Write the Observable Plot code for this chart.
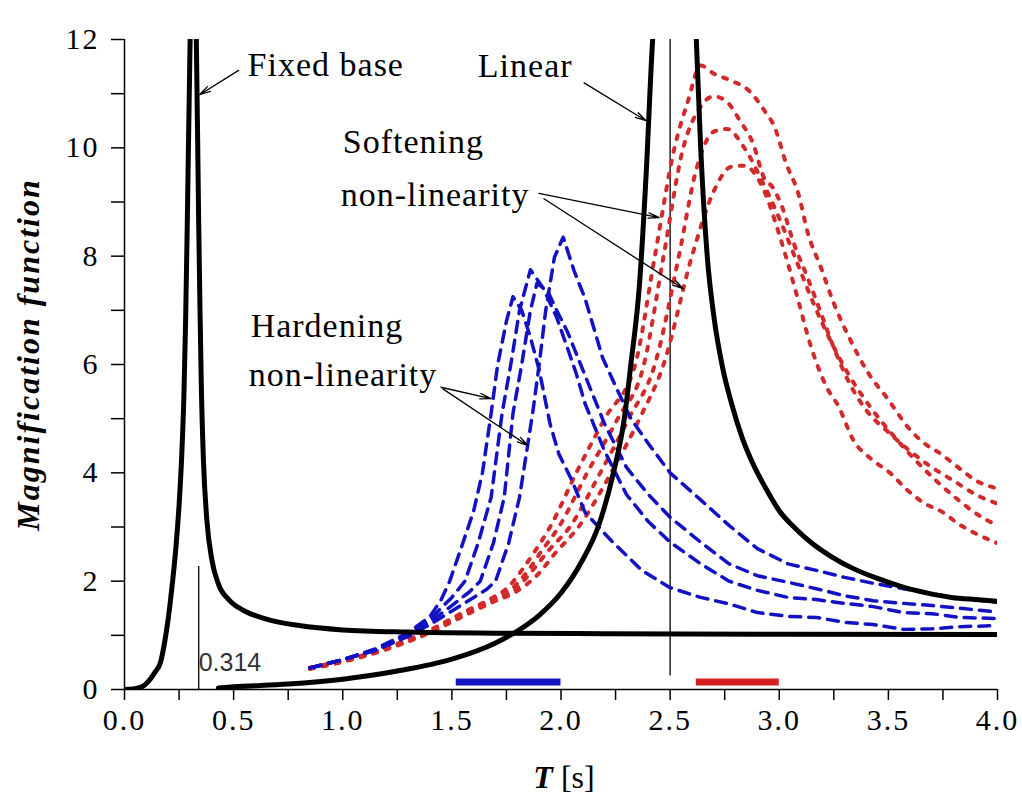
<!DOCTYPE html>
<html>
<head>
<meta charset="utf-8">
<script src="https://cdn.jsdelivr.net/npm/d3@7"></script>
<script src="https://cdn.jsdelivr.net/npm/@observablehq/plot@0.6"></script>
<style>
  html, body { margin: 0; padding: 0; background: white; }
  svg text { font-family: "Liberation Serif", "Times New Roman", serif; }
  svg text.sans { font-family: "Liberation Sans", Arial, sans-serif; }
</style>
</head>
<body>
<div id="chart"></div>
<script>
// ---- Axis ticks ----
const xTicks = [0, 0.25, 0.5, 0.75, 1, 1.25, 1.5, 1.75, 2, 2.25, 2.5, 2.75, 3, 3.25, 3.5, 3.75, 4];
const xTickLabels = ["0.0", "", "0.5", "", "1.0", "", "1.5", "", "2.0", "", "2.5", "", "3.0", "", "3.5", "", "4.0"];
const yTicks = [0, 1, 2, 3, 4, 5, 6, 7, 8, 9, 10, 11, 12];
const yTickLabels = ["0", "", "2", "", "4", "", "6", "", "8", "", "10", "", "12"];

// ---- Fixed base (black) ----
const fixedT = [0, 0.04, 0.08, 0.11, 0.14, 0.165, 0.185, 0.2, 0.215, 0.235, 0.25, 0.262, 0.272, 0.28, 0.288, 0.296, 0.304, 0.326, 0.334, 0.34, 0.346, 0.352, 0.362, 0.378, 0.4, 0.43, 0.48, 0.55, 0.65, 0.8, 1.0, 1.3, 1.7, 2.2, 3.0, 4.0];
const fixedM = [0, 0.01, 0.05, 0.15, 0.32, 0.5, 0.9, 1.3, 1.8, 2.6, 3.4, 4.3, 5.4, 6.8, 8.7, 10.8, 12.4, 12.4, 10.5, 8.6, 7.0, 5.6, 4.2, 3.1, 2.4, 1.95, 1.65, 1.45, 1.3, 1.18, 1.1, 1.06, 1.04, 1.03, 1.02, 1.015];

// ---- Linear (black), two branches around T = 2.5 ----
const linearLeftT = [0.43, 0.5, 0.75, 1.0, 1.25, 1.5, 1.7, 1.8, 1.9, 2.0, 2.1, 2.17, 2.24, 2.29, 2.32, 2.36, 2.39, 2.42, 2.44];
const linearLeftM = [0.03, 0.05, 0.1, 0.19, 0.34, 0.56, 0.86, 1.08, 1.37, 1.78, 2.4, 3.0, 4.0, 5.0, 6.0, 7.5, 9.5, 12.0, 13.0];
const linearRightT = [2.61, 2.62, 2.64, 2.67, 2.7, 2.74, 2.78, 2.83, 2.87, 2.94, 3.0, 3.08, 3.15, 3.24, 3.33, 3.45, 3.56, 3.68, 3.79, 3.9, 4.0];
const linearRightM = [13.0, 12.0, 10.0, 8.0, 6.9, 5.95, 5.3, 4.65, 4.25, 3.7, 3.3, 2.95, 2.7, 2.45, 2.25, 2.05, 1.9, 1.78, 1.7, 1.66, 1.63];

// ---- Hardening non-linearity (blue dashed) ----
const hard1T = [0.85, 1.0, 1.15, 1.3, 1.4, 1.45, 1.49, 1.55, 1.6, 1.64, 1.68, 1.71, 1.75, 1.78, 1.82, 1.86, 1.9, 1.95, 1.99, 2.05, 2.11, 2.23, 2.37, 2.5, 2.64, 2.77, 2.9, 3.04, 3.17, 3.3, 3.43, 3.57, 3.7, 3.83, 4.0];
const hard1M = [0.4, 0.55, 0.75, 1.05, 1.35, 1.65, 2.0, 2.7, 3.3, 4.0, 5.1, 6.0, 6.8, 7.25, 7.0, 6.5, 5.9, 4.9, 4.35, 3.86, 3.27, 2.75, 2.2, 1.88, 1.7, 1.58, 1.42, 1.35, 1.33, 1.24, 1.2, 1.11, 1.12, 1.16, 1.18];
const hard2T = [0.85, 1.0, 1.15, 1.3, 1.4, 1.5, 1.56, 1.62, 1.68, 1.73, 1.77, 1.81, 1.86, 1.92, 1.98, 2.03, 2.07, 2.11, 2.2, 2.3, 2.4, 2.5, 2.64, 2.77, 2.9, 3.04, 3.17, 3.3, 3.43, 3.57, 3.7, 3.83, 4.0];
const hard2M = [0.4, 0.55, 0.74, 1.02, 1.3, 1.7, 2.0, 2.7, 3.55, 5.1, 6.0, 7.0, 7.75, 7.4, 6.87, 6.3, 5.83, 5.28, 4.4, 3.6, 3.1, 2.72, 2.32, 2.0, 1.83, 1.7, 1.66, 1.59, 1.53, 1.42, 1.4, 1.33, 1.31];
const hard3T = [0.85, 1.0, 1.15, 1.3, 1.4, 1.5, 1.58, 1.63, 1.69, 1.74, 1.78, 1.82, 1.86, 1.89, 1.94, 1.98, 2.03, 2.08, 2.14, 2.2, 2.3, 2.4, 2.5, 2.64, 2.77, 2.9, 3.04, 3.17, 3.3, 3.43, 3.57, 3.7, 3.83, 4.0];
const hard3M = [0.4, 0.55, 0.73, 1.0, 1.25, 1.55, 1.8, 2.0, 2.7, 3.55, 5.1, 6.0, 7.0, 7.5, 7.35, 7.0, 6.6, 6.1, 5.5, 4.9, 4.1, 3.6, 3.18, 2.72, 2.32, 2.1, 1.98, 1.86, 1.73, 1.64, 1.59, 1.55, 1.5, 1.43];
const hard4T = [0.85, 1.0, 1.15, 1.3, 1.4, 1.5, 1.6, 1.66, 1.7, 1.76, 1.81, 1.87, 1.9, 1.93, 1.97, 2.01, 2.06, 2.11, 2.15, 2.19, 2.25, 2.32, 2.4, 2.5, 2.64, 2.77, 2.9, 3.04, 3.17, 3.3, 3.43, 3.57, 3.7, 3.83, 4.0];
const hard4M = [0.4, 0.55, 0.72, 0.98, 1.2, 1.45, 1.7, 1.85, 2.0, 2.7, 3.55, 5.1, 6.0, 7.0, 7.98, 8.35, 7.73, 7.22, 6.68, 6.13, 5.6, 5.0, 4.54, 4.0, 3.5, 3.03, 2.6, 2.32, 2.2, 2.07, 1.96, 1.86, 1.77, 1.68, 1.61];

// ---- Softening non-linearity (red dotted) ----
const soft1T = [0.85, 1.0, 1.2, 1.4, 1.55, 1.68, 1.8, 1.9, 1.97, 2.08, 2.23, 2.36, 2.47, 2.6, 2.7, 2.78, 2.84, 2.92, 3.0, 3.04, 3.09, 3.14, 3.22, 3.27, 3.34, 3.42, 3.51, 3.59, 3.66, 3.75, 3.82, 3.9, 4.0];
const soft1M = [0.38, 0.51, 0.74, 1.05, 1.35, 1.6, 1.82, 2.15, 2.5, 3.0, 4.0, 5.0, 6.0, 8.0, 9.2, 9.65, 9.67, 9.3, 8.4, 7.86, 7.14, 6.4, 5.56, 5.24, 4.6, 4.26, 3.99, 3.67, 3.45, 3.27, 3.06, 2.88, 2.7];
const soft2T = [0.85, 1.0, 1.2, 1.4, 1.55, 1.68, 1.79, 1.87, 1.94, 2.04, 2.18, 2.31, 2.43, 2.54, 2.62, 2.7, 2.76, 2.84, 2.92, 3.0, 3.08, 3.16, 3.24, 3.32, 3.42, 3.52, 3.62, 3.72, 3.82, 3.92, 4.0];
const soft2M = [0.39, 0.52, 0.75, 1.07, 1.38, 1.63, 1.85, 2.2, 2.55, 3.0, 4.0, 5.0, 6.0, 8.0, 9.6, 10.3, 10.35, 10.0, 9.4, 8.7, 7.9, 7.1, 6.4, 5.8, 5.2, 4.7, 4.25, 3.85, 3.5, 3.2, 3.03];
const soft3T = [0.85, 1.0, 1.2, 1.4, 1.55, 1.68, 1.78, 1.85, 1.91, 1.99, 2.12, 2.26, 2.38, 2.47, 2.56, 2.63, 2.7, 2.76, 2.82, 2.88, 2.93, 2.97, 3.01, 3.07, 3.13, 3.19, 3.25, 3.32, 3.4, 3.5, 3.6, 3.7, 3.8, 3.9, 4.0];
const soft3M = [0.4, 0.53, 0.76, 1.09, 1.4, 1.66, 1.88, 2.2, 2.55, 3.0, 4.0, 5.0, 6.0, 8.0, 10.0, 10.7, 10.95, 10.85, 10.5, 10.08, 9.45, 9.27, 8.94, 8.2, 7.6, 6.96, 6.31, 5.67, 5.15, 4.75, 4.4, 4.1, 3.85, 3.6, 3.43];
const soft4T = [0.85, 1.0, 1.2, 1.4, 1.55, 1.68, 1.76, 1.82, 1.88, 1.95, 2.07, 2.2, 2.34, 2.43, 2.52, 2.58, 2.64, 2.7, 2.78, 2.86, 2.93, 2.98, 3.03, 3.09, 3.13, 3.19, 3.25, 3.32, 3.41, 3.5, 3.59, 3.66, 3.74, 3.82, 3.9, 4.0];
const soft4M = [0.4, 0.53, 0.77, 1.1, 1.42, 1.68, 1.9, 2.2, 2.55, 3.0, 4.0, 5.0, 6.0, 8.0, 10.0, 10.84, 11.52, 11.37, 11.24, 11.06, 10.7, 10.37, 9.73, 9.12, 8.44, 7.8, 7.13, 6.5, 5.83, 5.35, 4.84, 4.56, 4.35, 4.1, 3.86, 3.71];

// ---- Period ranges (bars near the axis) ----
const hardRange = [1.52, 2.0];
const softRange = [2.62, 3.0];
const barLevel = 0.14;

// ---- Reference lines ----
const fixedPeriodLine = {T: 0.34, from: 0, to: 2.27, label: "0.314"};
const linearPeriodLine = {T: 2.5, from: 0.25, to: 12};

// ---- Annotations ----
const noteTexts = ["Fixed base", "Linear", "Softening", "non-linearity", "Hardening", "non-linearity"];
const noteT = [0.564, 1.619, 1.0, 0.991, 0.578, 0.569];
const noteM = [11.33, 11.30, 9.91, 8.93, 6.5, 5.61];
const arrowFromT = [0.523, 2.106, 1.899, 1.922, 1.45, 1.459];
const arrowFromM = [11.43, 11.2, 9.16, 9.06, 5.58, 5.55];
const arrowToT = [0.344, 2.39, 2.45, 2.56, 1.679, 1.849];
const arrowToM = [10.98, 10.5, 8.71, 7.40, 5.37, 4.5];

// ---- Build tables ----
const toRows = (T, M, series) => T.map((t, i) => ({T: t, M: M[i], series}));
const blackRows = [
  ...toRows(fixedT, fixedM, "fixed"),
  ...toRows(linearLeftT, linearLeftM, "linL"),
  ...toRows(linearRightT, linearRightM, "linR")
];
const hardRows = [
  ...toRows(hard1T, hard1M, "h1"), ...toRows(hard2T, hard2M, "h2"),
  ...toRows(hard3T, hard3M, "h3"), ...toRows(hard4T, hard4M, "h4")
];
const softRows = [
  ...toRows(soft1T, soft1M, "s1"), ...toRows(soft2T, soft2M, "s2"),
  ...toRows(soft3T, soft3M, "s3"), ...toRows(soft4T, soft4M, "s4")
];
const notes = noteTexts.map((t, i) => ({text: t, T: noteT[i], M: noteM[i]}));
const arrows = arrowFromT.map((t, i) => ({x1: t, y1: arrowFromM[i], x2: arrowToT[i], y2: arrowToM[i]}));
const bars = [
  {x1: hardRange[0], x2: hardRange[1], y: barLevel, c: "#1414c0"},
  {x1: softRange[0], x2: softRange[1], y: barLevel, c: "#d42020"}
];

const BLUE = "#1212c4";
const RED = "#d22a2a";
const SERIF = "'Liberation Serif', 'Times New Roman', serif";

const svg = Plot.plot({
  width: 1022,
  height: 802,
  marginLeft: 124,
  marginRight: 25,
  marginTop: 39,
  marginBottom: 113,
  style: {fontFamily: SERIF, fontSize: "30px", background: "white", color: "black"},
  x: {domain: [0, 4]},
  y: {domain: [0, 12]},
  marks: [
    // axes
    Plot.axisX({ticks: xTicks, tickFormat: d => xTickLabels[xTicks.indexOf(d)], tickSize: 11, tickPadding: 8, fontSize: 30, fontFamily: SERIF, label: null, strokeWidth: 1.5}),
    Plot.axisY({ticks: yTicks, tickFormat: d => yTickLabels[yTicks.indexOf(d)], tickSize: 13, tickPadding: 12, fontSize: 30, fontFamily: SERIF, label: null, strokeWidth: 1.5}),
    Plot.ruleY([0], {stroke: "black", strokeWidth: 1.5}),
    Plot.ruleX([0], {stroke: "black", strokeWidth: 1.5}),
    // reference lines
    Plot.ruleX([fixedPeriodLine], {x: "T", y1: "from", y2: "to", stroke: "black", strokeWidth: 1.3}),
    Plot.ruleX([linearPeriodLine], {x: "T", y1: "from", y2: "to", stroke: "black", strokeWidth: 1.3}),
    Plot.text([fixedPeriodLine], {x: "T", y: 0.35, text: "label", textAnchor: "start", lineAnchor: "bottom", fontFamily: "'Liberation Sans', Arial, sans-serif", fontSize: 25, fill: "#333"}),
    // softening (red dotted)
    Plot.line(softRows, {x: "T", y: "M", z: "series", stroke: RED, strokeWidth: 4, strokeDasharray: "4,9", curve: "monotone-x", clip: true}),
    // hardening (blue dashed)
    Plot.line(hardRows, {x: "T", y: "M", z: "series", stroke: BLUE, strokeWidth: 3.5, strokeDasharray: "11,8", clip: true}),
    // black curves
    Plot.line(blackRows, {x: "T", y: "M", z: "series", stroke: "black", strokeWidth: 5, strokeLinejoin: "round", curve: "monotone-x", clip: true}),
    // period range bars
    Plot.ruleY(bars, {x1: "x1", x2: "x2", y: "y", stroke: "c", strokeWidth: 7}),
    // annotations
    Plot.arrow(arrows, {x1: "x1", y1: "y1", x2: "x2", y2: "y2", stroke: "black", strokeWidth: 1.3, headLength: 13, headAngle: 28}),
    Plot.text(notes, {x: "T", y: "M", text: "text", textAnchor: "start", lineAnchor: "bottom", fontSize: 34, fontFamily: SERIF, fill: "black"}),
    // axis titles
    Plot.text(["Magnification function"], {frameAnchor: "left", textAnchor: "middle", dx: -96, dy: -10, rotate: -90, fontSize: 32, fontFamily: SERIF, fontWeight: "bold", fontStyle: "italic", fill: "black"}),
    Plot.text(["T [s]"], {frameAnchor: "bottom", dx: 3, dy: 98, lineAnchor: "bottom", fontSize: 32, fontFamily: SERIF, fill: "black"})
  ]
});

document.getElementById("chart").appendChild(svg);

// text styling touches: letter spacing and mixed-style axis title
d3.select(svg).selectAll("text").each(function () {
  const el = d3.select(this);
  const t = this.textContent;
  if (t === "0.314") { el.classed("sans", true); return; }
  if (/^\d+(\.\d)?$/.test(t)) { el.attr("letter-spacing", "2px"); return; }
  if (noteTexts.includes(t)) { el.attr("letter-spacing", "1px"); return; }
  if (t === "Magnification function") { el.attr("letter-spacing", "2px"); return; }
  if (t === "T [s]") {
    el.text(null);
    el.append("tspan").attr("font-weight", "bold").attr("font-style", "italic").text("T");
    el.append("tspan").text(" [s]");
  }
});
</script>
</body>
</html>
